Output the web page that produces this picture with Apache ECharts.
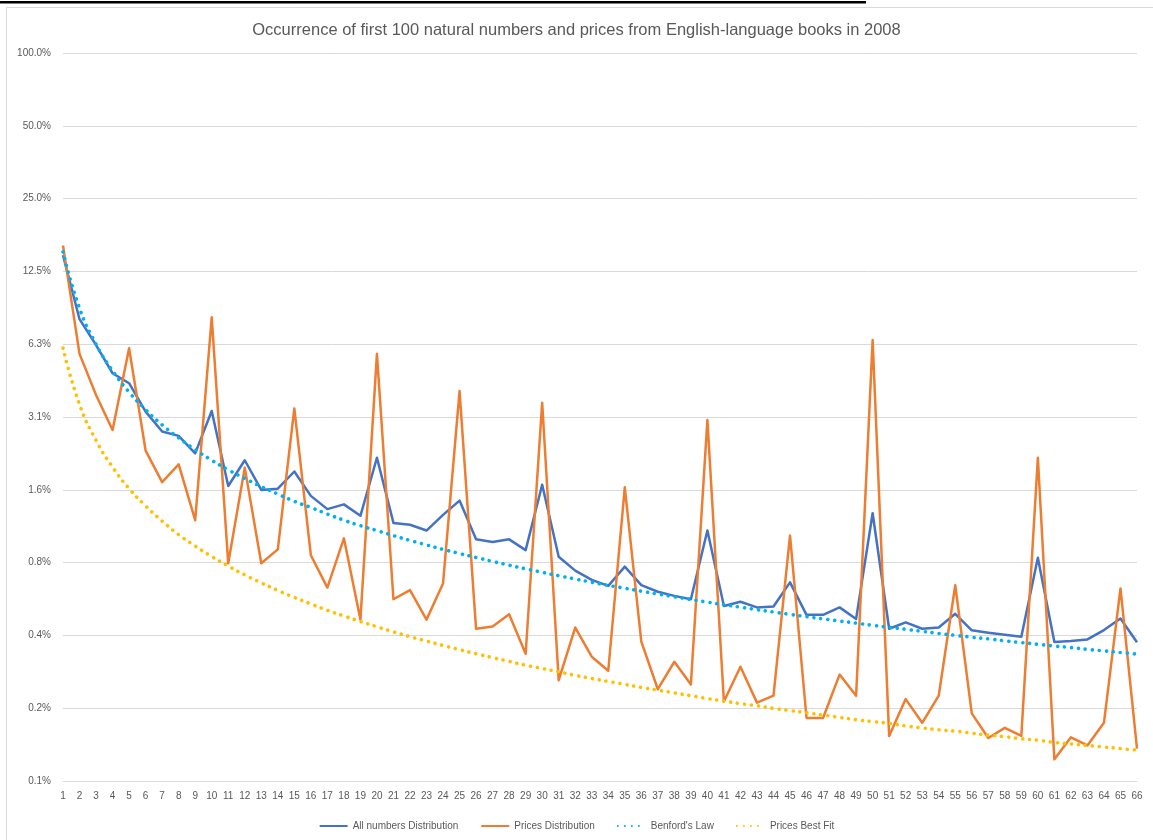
<!DOCTYPE html>
<html>
<head>
<meta charset="utf-8">
<title>Occurrence of first 100 natural numbers and prices</title>
<script src="https://cdn.jsdelivr.net/npm/echarts@6/dist/echarts.min.js"></script>
<style>
  html, body { margin: 0; padding: 0; background: #ffffff; }
  #chart { width: 1153px; height: 840px; }
</style>
</head>
<body>
<div id="chart"></div>
<script>
// Numbers 1..66 along the horizontal axis
const numbers = ['1','2','3','4','5','6','7','8','9','10','11','12','13','14','15','16','17','18','19','20',
  '21','22','23','24','25','26','27','28','29','30','31','32','33','34','35','36','37','38','39','40',
  '41','42','43','44','45','46','47','48','49','50','51','52','53','54','55','56','57','58','59','60',
  '61','62','63','64','65','66'];

// Share of occurrences, in percent
const allNumbers = [14.6, 7.93, 6.2, 4.74, 4.31, 3.29, 2.72, 2.61, 2.21, 3.31,
  1.62, 2.07, 1.56, 1.58, 1.86, 1.475, 1.3, 1.36, 1.22, 2.12,
  1.14, 1.12, 1.06, 1.23, 1.41, 0.975, 0.951, 0.975, 0.88, 1.64,
  0.826, 0.724, 0.663, 0.626, 0.752, 0.63, 0.592, 0.569, 0.551, 1.06,
  0.517, 0.538, 0.51, 0.514, 0.647, 0.475, 0.475, 0.51, 0.457, 1.25,
  0.416, 0.442, 0.416, 0.421, 0.48, 0.41, 0.401, 0.393, 0.386, 0.818,
  0.367, 0.37, 0.376, 0.411, 0.459, 0.366];

const prices = [16.0, 5.7, 3.85, 2.76, 6.01, 2.27, 1.68, 1.99, 1.17, 8.07,
  0.776, 1.93, 0.776, 0.886, 3.39, 0.838, 0.616, 0.984, 0.454, 5.7,
  0.551, 0.601, 0.454, 0.64, 4.0, 0.416, 0.425, 0.478, 0.328, 3.58,
  0.255, 0.421, 0.319, 0.279, 1.6, 0.368, 0.234, 0.304, 0.245, 3.04,
  0.208, 0.29, 0.206, 0.22, 1.01, 0.178, 0.178, 0.269, 0.22, 6.5,
  0.15, 0.213, 0.17, 0.22, 0.63, 0.186, 0.147, 0.162, 0.15, 2.12,
  0.12, 0.148, 0.137, 0.17, 0.611, 0.133];

const benford = [15.05, 8.80, 6.25, 4.85, 3.96, 3.35, 2.90, 2.56, 2.29, 2.07,
  1.89, 1.74, 1.61, 1.50, 1.40, 1.32, 1.24, 1.17, 1.11, 1.06,
  1.01, 0.965, 0.924, 0.886, 0.852, 0.820, 0.790, 0.762, 0.736, 0.712,
  0.689, 0.668, 0.648, 0.629, 0.612, 0.595, 0.579, 0.564, 0.550, 0.536,
  0.523, 0.511, 0.499, 0.488, 0.477, 0.467, 0.457, 0.448, 0.439, 0.430,
  0.422, 0.414, 0.406, 0.398, 0.391, 0.384, 0.378, 0.371, 0.365, 0.359,
  0.353, 0.348, 0.342, 0.337, 0.332, 0.327];

const pricesFit = [6.02, 3.52, 2.50, 1.94, 1.58, 1.34, 1.16, 1.02, 0.915, 0.828,
  0.756, 0.695, 0.644, 0.599, 0.561, 0.527, 0.496, 0.470, 0.446, 0.424,
  0.404, 0.386, 0.370, 0.355, 0.341, 0.328, 0.316, 0.305, 0.294, 0.285,
  0.276, 0.267, 0.259, 0.252, 0.245, 0.238, 0.232, 0.226, 0.220, 0.214,
  0.209, 0.204, 0.200, 0.195, 0.191, 0.187, 0.183, 0.179, 0.175, 0.172,
  0.169, 0.165, 0.162, 0.159, 0.157, 0.154, 0.151, 0.149, 0.146, 0.144,
  0.141, 0.139, 0.137, 0.135, 0.133, 0.131];

// Axis runs from 1/1024 to 1 (fractions), doubling at each gridline
const yMin = 1 / 1024;
const yMax = 1;

const toFraction = arr => arr.map(v => v / 100);

const textColor = '#595959';
const gridColor = '#d9d9d9';
const font = 'Liberation Sans, Arial, sans-serif';

// round dots, about 7px apart
const dotted = [0.01, 7];

const chart = echarts.init(document.getElementById('chart'), null, { renderer: 'canvas' });

chart.setOption({
  animation: false,
  backgroundColor: '#ffffff',
  title: {
    text: 'Occurrence of first 100 natural numbers and prices from English-language books in 2008',
    left: 'center',
    top: 17,
    textStyle: { color: textColor, fontSize: 16.5, fontWeight: 'normal', fontFamily: font }
  },
  graphic: [
    { type: 'rect', left: 0, top: 1, shape: { width: 866, height: 2.5 }, style: { fill: '#000000' }, silent: true },
    { type: 'rect', shape: { x: 6.5, y: 7.5, width: 1200, height: 900 }, style: { fill: null, stroke: gridColor, lineWidth: 1 }, silent: true }
  ],
  legend: {
    left: 'center',
    top: 816,
    itemWidth: 28,
    itemHeight: 12,
    itemGap: 22,
    itemStyle: { opacity: 0 },
    textStyle: { color: textColor, fontSize: 10, fontFamily: font },
    data: ['All numbers Distribution', 'Prices Distribution', "Benford's Law", 'Prices Best Fit']
  },
  grid: { left: 63, right: 16, top: 53, bottom: 59 },
  xAxis: {
    type: 'category',
    data: numbers,
    boundaryGap: false,
    axisLine: { lineStyle: { color: gridColor } },
    axisTick: { show: false },
    axisLabel: { color: textColor, fontSize: 10, fontFamily: font, margin: 10, interval: 0 },
    splitLine: { show: false }
  },
  yAxis: {
    type: 'log',
    logBase: 2,
    min: yMin,
    max: yMax,
    interval: 1,
    axisLine: { show: false },
    axisTick: { show: false },
    axisLabel: {
      color: textColor, fontSize: 10, fontFamily: font, margin: 12,
      formatter: v => (v * 100).toFixed(1) + '%'
    },
    splitLine: { lineStyle: { color: gridColor, width: 1 } }
  },
  series: [
    {
      name: 'All numbers Distribution', type: 'line', data: toFraction(allNumbers),
      symbol: 'none', lineStyle: { color: '#4472C4', width: 2.5, join: 'round' },
      itemStyle: { color: '#4472C4' }
    },
    {
      name: 'Prices Distribution', type: 'line', data: toFraction(prices),
      symbol: 'none', lineStyle: { color: '#ED7D31', width: 2.5, join: 'round' },
      itemStyle: { color: '#ED7D31' }
    },
    {
      name: "Benford's Law", type: 'line', data: toFraction(benford), smooth: true,
      symbol: 'none', lineStyle: { color: '#00B0F0', width: 3.6, type: dotted, cap: 'round' },
      itemStyle: { color: '#00B0F0' }
    },
    {
      name: 'Prices Best Fit', type: 'line', data: toFraction(pricesFit), smooth: true,
      symbol: 'none', lineStyle: { color: '#FFC000', width: 3.6, type: dotted, cap: 'round' },
      itemStyle: { color: '#FFC000' }
    }
  ]
});
</script>
</body>
</html>
